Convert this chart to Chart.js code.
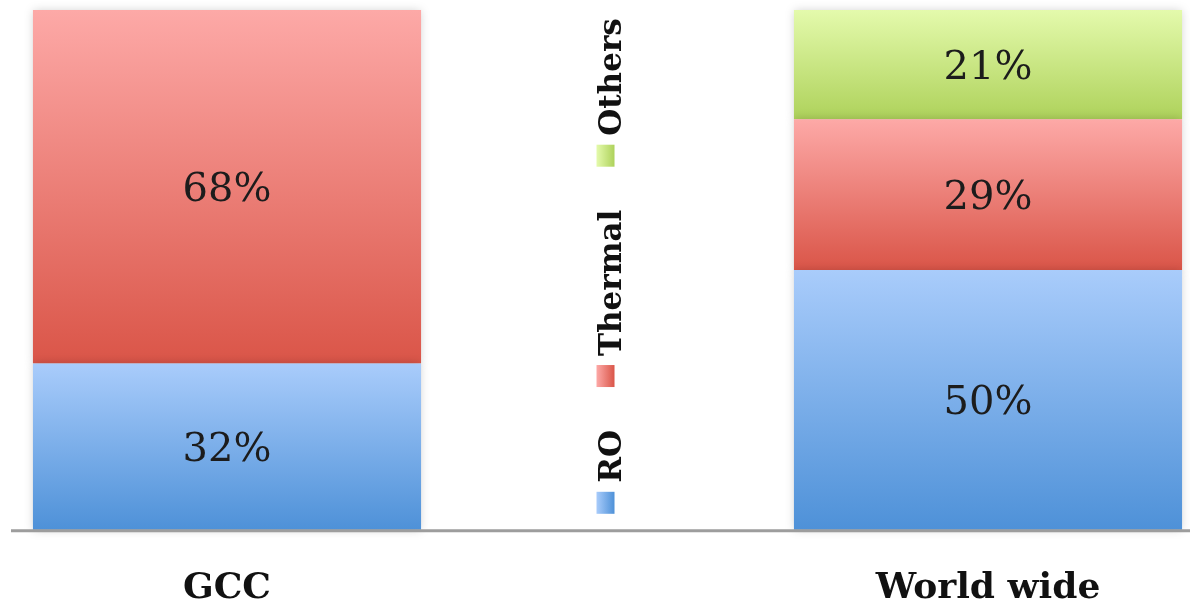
<!DOCTYPE html>
<html><head><meta charset="utf-8">
<script src="https://cdn.jsdelivr.net/npm/chart.js@4"></script>
<style>html,body{margin:0;padding:0;background:#fff}#wrap{width:1190px;height:606px;position:relative}</style>
</head><body><div id="wrap"><canvas id="c"></canvas></div>
<script>
// ---- data ----
const categories = ['GCC', 'World wide'];
const seriesNames = ['RO', 'Thermal', 'Others'];
const roValues = [32, 50];
const thermalValues = [68, 29];
const othersValues = [null, 21];

// ---- styles ----
const gradients = [
  ['#a9ccfb', '#4e91d8'],
  ['#fda9a7', '#da5548'],
  ['#e4faac', '#aed25b']
];

function segGradient(ctx) {
  const colors = gradients[ctx.datasetIndex];
  const chart = ctx.chart;
  if (!chart.chartArea || ctx.type !== 'data') return colors[1];
  const y = chart.scales.y;
  const di = ctx.datasetIndex, i = ctx.dataIndex;
  let base = 0;
  for (let k = 0; k < di; k++) base += chart.data.datasets[k].data[i] || 0;
  const v = chart.data.datasets[di].data[i] || 0;
  const top = y.getPixelForValue(base + v), bot = y.getPixelForValue(base);
  if (!isFinite(top) || !isFinite(bot) || top === bot) return colors[1];
  const g = chart.ctx.createLinearGradient(0, top, 0, bot);
  g.addColorStop(0, colors[0]);
  g.addColorStop(1, colors[1]);
  return g;
}

const shadowPlugin = {
  id: 'barShadow',
  beforeDatasetsDraw(chart) {
    const c = chart.ctx; c.save();
    c.shadowColor = 'rgba(0,0,0,0.18)'; c.shadowBlur = 9;
  },
  afterDatasetsDraw(chart) { chart.ctx.restore(); }
};

const baselinePlugin = {
  id: 'baseline',
  afterDatasetsDraw(chart) {
    const c = chart.ctx, y = chart.scales.y.getPixelForValue(0);
    c.save();
    c.strokeStyle = '#9d9d9d'; c.lineWidth = 3;
    c.beginPath(); c.moveTo(11, y + 1); c.lineTo(chart.width, y + 1); c.stroke();
    c.restore();
  }
};

const valueLabels = {
  id: 'valueLabels',
  afterDatasetsDraw(chart) {
    const c = chart.ctx;
    c.save();
    c.font = '40px "DejaVu Serif"';
    c.fillStyle = '#1c1c1c';
    c.textAlign = 'center'; c.textBaseline = 'middle';
    chart.data.datasets.forEach((ds, di) => {
      const meta = chart.getDatasetMeta(di);
      meta.data.forEach((el, i) => {
        const v = ds.data[i];
        if (v == null || v === 0) return;
        const cy = (el.y + el.base) / 2;
        c.fillText(v + '%', el.x, cy + 4);
      });
    });
    c.restore();
  }
};

const rotatedLegend = {
  id: 'rotatedLegend',
  afterDraw(chart) {
    const c = chart.ctx, xs = chart.scales.x;
    const cx = (xs.getPixelForValue(0) + xs.getPixelForValue(1)) / 2;
    const baseX = cx + 13;
    let y = chart.scales.y.getPixelForValue(0) - 16;
    c.save();
    c.font = 'bold 31px "DejaVu Serif"';
    chart.data.datasets.forEach((ds, di) => {
      const sw = 22;
      const cols = gradients[di];
      const g = c.createLinearGradient(cx - 11, 0, cx + 7, 0);
      g.addColorStop(0, cols[0]); g.addColorStop(1, cols[1]);
      c.fillStyle = g;
      c.fillRect(cx - 11, y - sw, 18, sw);
      y -= sw + 9;
      const w = c.measureText(ds.label).width;
      c.save();
      c.translate(baseX, y);
      c.rotate(-Math.PI / 2);
      c.fillStyle = '#111';
      c.textAlign = 'left'; c.textBaseline = 'alphabetic';
      c.fillText(ds.label, 0, 0);
      c.restore();
      y -= w + 43;
    });
    c.restore();
  }
};

new Chart(document.getElementById('c'), {
  type: 'bar',
  data: {
    labels: categories,
    datasets: [
      { label: seriesNames[0], data: roValues },
      { label: seriesNames[1], data: thermalValues },
      { label: seriesNames[2], data: othersValues }
    ].map(d => Object.assign(d, {
      backgroundColor: segGradient,
      borderWidth: 0,
      clip: false,
      categoryPercentage: 1,
      barPercentage: 0.51
    }))
  },
  options: {
    responsive: true,
    maintainAspectRatio: false,
    animation: false,
    layout: { padding: { left: 227, right: 202, top: 10, bottom: -41 } },
    plugins: { legend: { display: false }, tooltip: { enabled: false } },
    scales: {
      x: {
        stacked: true,
        offset: false,
        grid: { display: false, drawTicks: false },
        border: { display: false },
        ticks: {
          autoSkip: false, maxRotation: 0, padding: 37,
          color: '#111',
          font: { family: 'DejaVu Serif', size: 36, weight: 'bold', lineHeight: 1.2 }
        }
      },
      y: { stacked: true, display: false, min: 0, max: 100 }
    }
  },
  plugins: [shadowPlugin, baselinePlugin, valueLabels, rotatedLegend]
});
</script></body></html>
